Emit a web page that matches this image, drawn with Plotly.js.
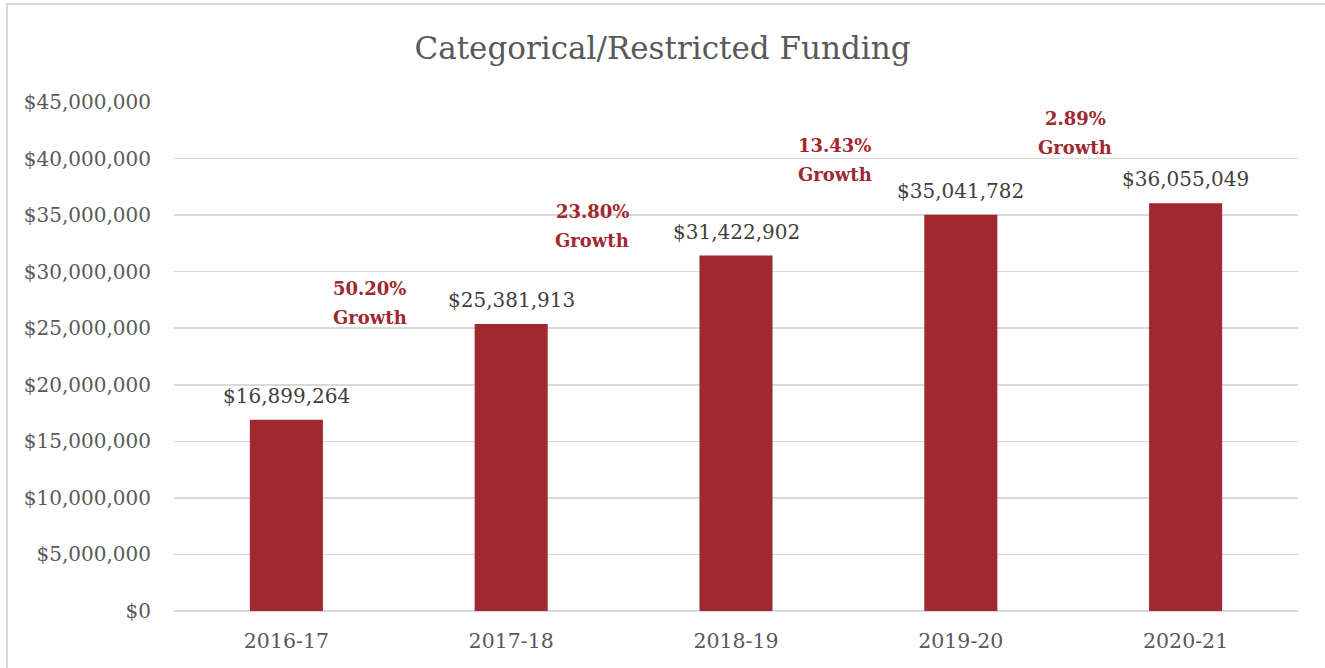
<!DOCTYPE html>
<html>
<head>
<meta charset="utf-8">
<script src="https://cdn.plot.ly/plotly-3.0.1.min.js"></script>
<style>html,body{margin:0;padding:0;background:#fff;}#chart{width:1325px;height:668px;}</style>
</head>
<body>
<div id="chart"></div>
<script>
const categories = ["2016-17", "2017-18", "2018-19", "2019-20", "2020-21"];
const funding = [16899264, 25381913, 31422902, 35041782, 36055049];
const growthLabels = ["50.20%", "23.80%", "13.43%", "2.89%"];
const growthX = [0.37, 1.36, 2.44, 3.51];
const growthY = [27230000, 34040000, 39830000, 42300000];
const yTicks = [0, 5000000, 10000000, 15000000, 20000000, 25000000, 30000000, 35000000, 40000000, 45000000];

const serif = "'DejaVu Serif', 'Liberation Serif', serif";
const fmt = v => "$" + v.toLocaleString("en-US");
const xIdx = categories.map((c, i) => i);

const trace = {
  type: "bar",
  x: xIdx,
  y: funding,
  marker: {color: "#A0282F"},
  hoverinfo: "none"
};

const annotations = [];
funding.forEach((v, i) => {
  annotations.push({
    x: xIdx[i], y: v, xref: "x", yref: "y",
    text: fmt(v), showarrow: false, yanchor: "bottom", yshift: 10,
    font: {family: serif, size: 20, color: "#404040"}
  });
});
growthLabels.forEach((g, i) => {
  annotations.push({
    x: growthX[i], y: growthY[i], xref: "x", yref: "y",
    text: "<b>" + g + "</b>", showarrow: false, yshift: 14.5,
    font: {family: serif, size: 18, color: "#A0282F"}
  });
  annotations.push({
    x: growthX[i], y: growthY[i], xref: "x", yref: "y",
    text: "<b>Growth</b>", showarrow: false, yshift: -14.5,
    font: {family: serif, size: 18, color: "#A0282F"}
  });
});

const layout = {
  width: 1325, height: 668,
  margin: {l: 174, r: 27, t: 102, b: 57},
  paper_bgcolor: "#fff", plot_bgcolor: "#fff",
  title: {text: "Categorical/Restricted Funding", font: {family: serif, size: 31, color: "#595959"}, x: 0.5, xanchor: "center", y: 0.928, yanchor: "middle"},
  bargap: 0.675,
  showlegend: false,
  xaxis: {
    tickmode: "array", tickvals: xIdx, ticktext: categories,
    range: [-0.5, 4.5], showgrid: false, zeroline: false, showline: false, ticks: "",
    ticklabelstandoff: 15,
    tickfont: {family: serif, size: 20.5, color: "#595959"}
  },
  yaxis: {
    range: [0, 45000000], tickmode: "array", tickvals: yTicks, ticktext: yTicks.map(fmt),
    showgrid: true, gridcolor: "#D9D9D9", gridwidth: 1.5, zeroline: true, zerolinecolor: "#D9D9D9", zerolinewidth: 1.5,
    showline: false, ticks: "", ticklen: 0, ticklabelstandoff: 22,
    tickfont: {family: serif, size: 20, color: "#595959"}
  },
  annotations: annotations,
  shapes: [{
    type: "rect", xref: "paper", yref: "paper",
    x0: -0.1486, x1: 1.2, y0: -0.3, y1: 1.1925,
    line: {color: "#D9D9D9", width: 2}, fillcolor: "rgba(0,0,0,0)"
  }]
};

Plotly.newPlot("chart", [trace], layout, {displayModeBar: false, staticPlot: true});
</script>
</body>
</html>
